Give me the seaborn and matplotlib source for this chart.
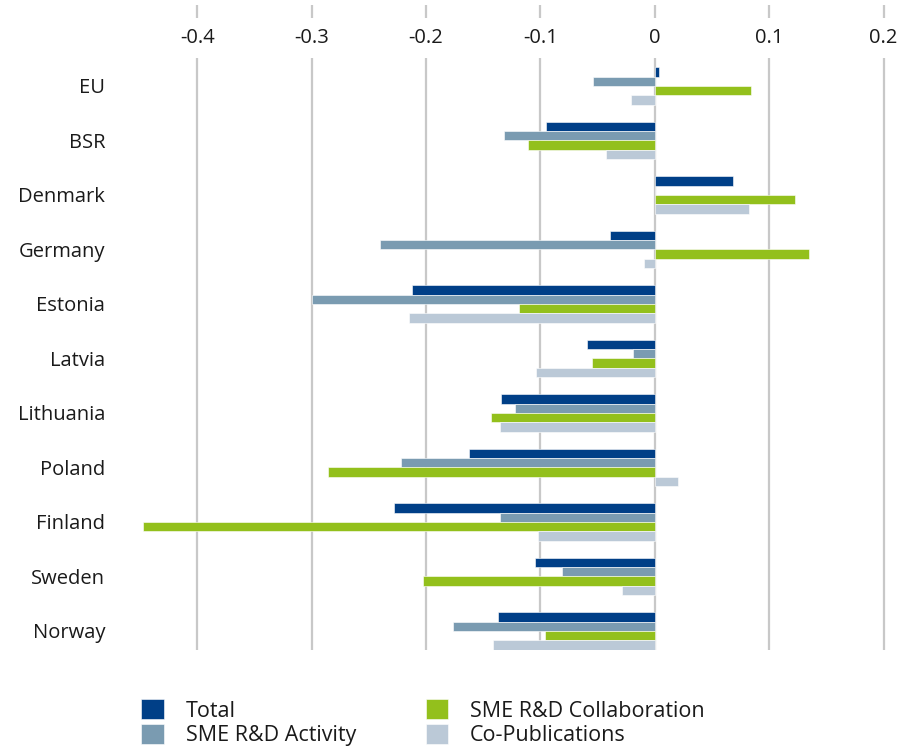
import matplotlib
matplotlib.use("Agg")
import matplotlib.pyplot as plt
import seaborn as sns
import pandas as pd

countries = ["EU", "BSR", "Denmark", "Germany", "Estonia", "Latvia",
             "Lithuania", "Poland", "Finland", "Sweden", "Norway"]
series_names = ["Total", "SME R&D Activity", "SME R&D Collaboration", "Co-Publications"]
total = [0.0035, -0.0955, 0.068, -0.039, -0.212, -0.059, -0.134, -0.162, -0.228, -0.105, -0.137]
activity = [-0.054, -0.132, 0.0, -0.2405, -0.300, -0.019, -0.122, -0.2216, -0.135, -0.081, -0.176]
collab = [0.084, -0.111, 0.123, 0.1345, -0.119, -0.055, -0.1435, -0.286, -0.4476, -0.2025, -0.096]
copub = [-0.0204, -0.0428, 0.082, -0.0093, -0.215, -0.1038, -0.1356, 0.020, -0.102, -0.029, -0.141]
xticks = [-0.4, -0.3, -0.2, -0.1, 0, 0.1, 0.2]
xtick_labels = ["-0.4", "-0.3", "-0.2", "-0.1", "0", "0.1", "0.2"]
colors = ["#003F87", "#7A9BB1", "#93C01C", "#BBC9D7"]

rows = []
for name, vals in zip(series_names, [total, activity, collab, copub]):
    for c, v in zip(countries, vals):
        rows.append({"country": c, "series": name, "value": v})
df = pd.DataFrame(rows)

sns.set_theme(style="white")
plt.rcParams["font.family"] = ["Open Sans", "DejaVu Sans"]

fig = plt.figure(figsize=(9.12, 7.48), dpi=100)
ax = fig.add_axes([140 / 912, 1 - 650 / 748, 755 / 912, 645 / 748])

sns.barplot(data=df, x="value", y="country", hue="series", orient="h",
            order=countries, hue_order=series_names, palette=colors,
            width=0.686, saturation=1, edgecolor="white", linewidth=0.4,
            ax=ax, legend=True)

ax.set_xlim(-0.45, 0.21)
ax.set_ylim(10.35, -1.486)
ax.set_xlabel("")
ax.set_ylabel("")
for s in ax.spines.values():
    s.set_visible(False)

ax.set_xticks(xticks, labels=xtick_labels)
ax.xaxis.set_ticks_position("top")
ax.tick_params(axis="x", top=True, labeltop=True, bottom=False, labelbottom=False,
               length=0, pad=-31, labelsize=14.5, labelcolor="#1a1a1a")
for lab in ax.get_xticklabels():
    lab.set_bbox(dict(facecolor="white", edgecolor="none", pad=7))
ax.tick_params(axis="y", length=0, pad=25, labelsize=14.5, labelcolor="#1a1a1a")
ax.grid(axis="x", color="#C8C8C8", linewidth=1.6)
ax.grid(axis="y", visible=False)
ax.set_axisbelow(True)

handles, labels = ax.get_legend_handles_labels()
ax.legend_.remove()
fig.legend(handles, labels, ncol=2, loc="upper left",
           bbox_to_anchor=(122 / 912, 1 - 680 / 748), frameon=False,
           fontsize=15.5, handlelength=1.05, handleheight=1.05,
           labelspacing=0.1, columnspacing=3.25, handletextpad=1.0,
           labelcolor="#1a1a1a")

fig.savefig("out.png", dpi=100)
